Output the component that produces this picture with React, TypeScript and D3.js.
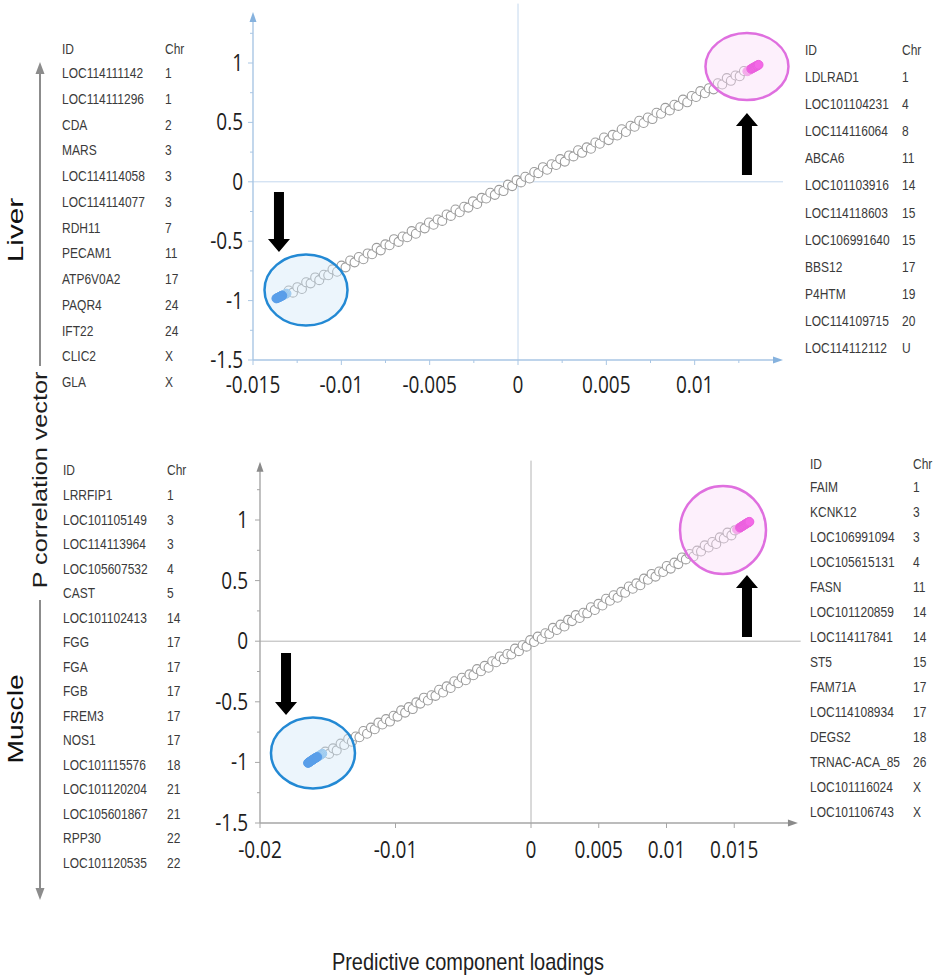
import React from "react";
import * as d3 from "d3";

// ---------------- DATA ----------------
const liverNegGenes = ["LOC114111142","LOC114111296","CDA","MARS","LOC114114058","LOC114114077","RDH11","PECAM1","ATP6V0A2","PAQR4","IFT22","CLIC2","GLA"];
const liverNegChr = ["1","1","2","3","3","3","7","11","17","24","24","X","X"];
const liverPosGenes = ["LDLRAD1","LOC101104231","LOC114116064","ABCA6","LOC101103916","LOC114118603","LOC106991640","BBS12","P4HTM","LOC114109715","LOC114112112"];
const liverPosChr = ["1","4","8","11","14","15","15","17","19","20","U"];
const muscleNegGenes = ["LRRFIP1","LOC101105149","LOC114113964","LOC105607532","CAST","LOC101102413","FGG","FGA","FGB","FREM3","NOS1","LOC101115576","LOC101120204","LOC105601867","RPP30","LOC101120535"];
const muscleNegChr = ["1","3","3","4","5","14","17","17","17","17","17","18","21","21","22","22"];
const musclePosGenes = ["FAIM","KCNK12","LOC106991094","LOC105615131","FASN","LOC101120859","LOC114117841","ST5","FAM71A","LOC114108934","DEGS2","TRNAC-ACA_85","LOC101116024","LOC101106743"];
const musclePosChr = ["1","3","3","4","11","14","14","15","17","17","18","26","X","X"];

const yTickValues = [-1.5, -1, -0.5, 0, 0.5, 1];
const yTickLabels = ["-1.5", "-1", "-0.5", "0", "0.5", "1"];
const liverXTickValues = [-0.015, -0.01, -0.005, 0, 0.005, 0.01];
const liverXTickLabels = ["-0.015", "-0.01", "-0.005", "0", "0.005", "0.01"];
const muscleXTickValues = [-0.02, -0.01, 0, 0.005, 0.01, 0.015];
const muscleXTickLabels = ["-0.02", "-0.01", "0", "0.005", "0.01", "0.015"];

const liverLoadings = [
  -0.01368,-0.01362,-0.01357,-0.01353,-0.01349,-0.01345,-0.01341,-0.01338,-0.01334,-0.01330,-0.01325,-0.01318,-0.01310,
  -0.01298,-0.01274,-0.01249,-0.01223,-0.01199,-0.01174,-0.01148,-0.01125,-0.01099,-0.01074,
  -0.01050,-0.01024,-0.00999,-0.00976,-0.00950,-0.00925,-0.00901,-0.00875,-0.00851,-0.00826,
  -0.00800,-0.00777,-0.00751,-0.00727,-0.00702,-0.00676,-0.00653,-0.00627,-0.00602,-0.00578,
  -0.00553,-0.00528,-0.00504,-0.00478,-0.00455,-0.00429,-0.00404,-0.00380,-0.00354,-0.00330,
  -0.00305,-0.00281,-0.00255,-0.00231,-0.00206,-0.00180,-0.00157,-0.00131,-0.00107,-0.00082,
  -0.00057,-0.00033,-0.00008,0.00017,0.00041,0.00066,0.00092,0.00115,0.00141,0.00165,
  0.00190,0.00216,0.00239,0.00265,0.00289,0.00314,0.00340,0.00363,0.00389,0.00413,
  0.00438,0.00463,0.00487,0.00513,0.00536,0.00562,0.00587,0.00611,0.00637,0.00660,
  0.00686,0.00711,0.00735,0.00761,0.00784,0.00810,0.00834,0.00859,0.00885,0.00908,
  0.00934,0.00958,0.00983,0.01008,0.01032,0.01058,0.01081,0.01107,0.01131,0.01156,
  0.01182,0.01205,0.01231,0.01255,0.01279,
  0.01298,0.01306,0.01313,0.01320,0.01327,0.01333,0.01339,0.01345,0.01351,0.01356,0.01362
];
const liverPcorr = [
  -0.982,-0.978,-0.975,-0.971,-0.969,-0.966,-0.962,-0.960,-0.957,-0.955,-0.951,-0.946,-0.941,
  -0.915,-0.933,-0.887,-0.902,-0.846,-0.855,-0.805,-0.828,-0.783,-0.787,
  -0.737,-0.757,-0.706,-0.720,-0.663,-0.678,-0.633,-0.652,-0.603,-0.610,
  -0.556,-0.577,-0.527,-0.534,-0.483,-0.506,-0.461,-0.467,-0.415,-0.437,
  -0.383,-0.392,-0.343,-0.361,-0.317,-0.329,-0.275,-0.287,-0.233,-0.256,
  -0.210,-0.217,-0.165,-0.187,-0.135,-0.141,-0.092,-0.110,-0.068,-0.078,
  -0.024,-0.036,0.014,-0.005,0.042,0.028,0.082,0.073,0.123,0.101,
  0.148,0.141,0.191,0.170,0.222,0.214,0.265,0.244,0.290,0.278,
  0.331,0.320,0.373,0.351,0.395,0.390,0.442,0.419,0.472,0.464,
  0.514,0.495,0.541,0.528,0.581,0.573,0.622,0.601,0.648,0.639,
  0.692,0.669,0.722,0.714,0.763,0.745,0.788,0.778,0.830,0.819,
  0.873,0.850,0.895,0.889,0.933,
  0.930,0.938,0.944,0.950,0.956,0.961,0.966,0.971,0.976,0.980,0.985
];

const muscleLoadings = [
  -0.01646,-0.01640,-0.01634,-0.01628,-0.01622,-0.01616,-0.01610,-0.01604,-0.01598,-0.01592,-0.01585,-0.01577,-0.01569,-0.01560,-0.01550,-0.01540,
  -0.01518,-0.01490,-0.01461,-0.01434,-0.01405,-0.01378,-0.01349,-0.01322,-0.01293,-0.01266,
  -0.01237,-0.01210,-0.01181,-0.01153,-0.01126,-0.01097,-0.01070,-0.01041,-0.01014,-0.00985,
  -0.00958,-0.00929,-0.00902,-0.00873,-0.00846,-0.00817,-0.00790,-0.00761,-0.00734,-0.00705,
  -0.00678,-0.00649,-0.00622,-0.00593,-0.00566,-0.00537,-0.00510,-0.00481,-0.00454,-0.00425,
  -0.00398,-0.00369,-0.00342,-0.00313,-0.00286,-0.00257,-0.00230,-0.00201,-0.00174,-0.00145,
  -0.00118,-0.00089,-0.00062,-0.00033,-0.00006,0.00023,0.00050,0.00079,0.00106,0.00135,
  0.00162,0.00191,0.00218,0.00247,0.00274,0.00303,0.00330,0.00359,0.00386,0.00415,
  0.00442,0.00471,0.00498,0.00527,0.00554,0.00583,0.00610,0.00639,0.00666,0.00695,
  0.00722,0.00751,0.00778,0.00807,0.00834,0.00863,0.00890,0.00919,0.00946,0.00975,
  0.01002,0.01031,0.01058,0.01087,0.01114,0.01143,0.01170,0.01199,0.01226,0.01255,
  0.01282,0.01311,0.01338,0.01367,0.01394,0.01423,0.01450,0.01479,0.01504,
  0.01520,0.01528,0.01535,0.01542,0.01549,0.01556,0.01563,0.01570,0.01577,0.01584,0.01591,0.01598,0.01605,0.01612
];
const musclePcorr = [
  -1.005,-1.001,-0.996,-0.991,-0.987,-0.982,-0.978,-0.973,-0.968,-0.964,-0.960,-0.955,-0.949,-0.943,-0.936,-0.928,
  -0.911,-0.930,-0.884,-0.901,-0.845,-0.856,-0.806,-0.830,-0.786,-0.792,
  -0.741,-0.764,-0.713,-0.726,-0.672,-0.687,-0.643,-0.663,-0.615,-0.622,
  -0.571,-0.589,-0.544,-0.560,-0.505,-0.515,-0.466,-0.489,-0.446,-0.451,
  -0.401,-0.423,-0.373,-0.386,-0.331,-0.347,-0.302,-0.322,-0.274,-0.281,
  -0.230,-0.248,-0.204,-0.219,-0.165,-0.174,-0.126,-0.148,-0.106,-0.110,
  -0.061,-0.082,-0.033,-0.045,0.009,-0.006,0.038,0.018,0.066,0.059,
  0.110,0.092,0.137,0.121,0.176,0.166,0.215,0.192,0.235,0.230,
  0.280,0.258,0.308,0.295,0.350,0.334,0.379,0.359,0.407,0.400,
  0.451,0.433,0.477,0.462,0.516,0.507,0.555,0.533,0.575,0.571,
  0.620,0.599,0.648,0.636,0.690,0.675,0.719,0.699,0.747,0.740,
  0.791,0.773,0.818,0.802,0.857,0.847,0.896,0.873,0.914,
  0.922,0.927,0.932,0.937,0.942,0.947,0.952,0.957,0.962,0.967,0.972,0.977,0.981,0.985
];

// ---------------- LAYOUT / STYLE ----------------
const TXT = "#3a3a3a";
const TICKFONT = "'Open Sans', 'Noto Sans', sans-serif";
const ARIAL = "'Liberation Sans', Arial, sans-serif";

function SText({ x, y, sx = 1, sy = 1, rot = 0, size, anchor = "start", fill = TXT, family = ARIAL, children }: any) {
  return (
    <text
      transform={`translate(${x},${y})${rot ? ` rotate(${rot})` : ""} scale(${sx},${sy})`}
      fontSize={size}
      textAnchor={anchor}
      fill={fill}
      fontFamily={family}
    >
      {children}
    </text>
  );
}

function Table({ genes, chr, x, xChr, headerY, rowY0, rowStep }: any) {
  return (
    <g>
      <SText x={x} y={headerY + 5} size={12} sy={1.2}>ID</SText>
      <SText x={xChr} y={headerY + 5} size={12} sy={1.2}>Chr</SText>
      {genes.map((g: string, i: number) => (
        <g key={g + i}>
          <SText x={x} y={rowY0 + i * rowStep + 5} size={12} sy={1.2}>{g}</SText>
          <SText x={xChr} y={rowY0 + i * rowStep + 5} size={12} sy={1.2}>{chr[i]}</SText>
        </g>
      ))}
    </g>
  );
}

function blockArrow(x: number, yTail: number, yTip: number) {
  const dir = Math.sign(yTip - yTail);
  const hb = yTip - dir * 13;
  return `M${x - 5},${yTail} L${x + 5},${yTail} L${x + 5},${hb} L${x + 11},${hb} L${x},${yTip} L${x - 11},${hb} L${x - 5},${hb} Z`;
}

function Panel(p: any) {
  const xs = d3.scaleLinear().domain(p.xDomain).range(p.xRange);
  const ys = d3.scaleLinear().domain(p.yDomain).range(p.yRange);
  const x0 = p.xRange[0];
  const yb = p.yRange[0];
  const n = p.loadings.length;
  const pts = p.loadings.map((v: number, i: number) => ({ x: xs(v), y: ys(p.pcorr[i]), i }));
  const gray = pts.filter((d: any) => d.i >= p.nNeg && d.i < n - p.nPos);
  const neg = pts.filter((d: any) => d.i < p.nNeg).reverse();
  const pos = pts.filter((d: any) => d.i >= n - p.nPos);
  const xEnd = xs(p.xAxisEnd);
  const yTop = ys(p.yAxisTop);
  return (
    <g>
      {/* zero lines */}
      <line x1={xs(0)} x2={xs(0)} y1={ys(p.zeroVTop)} y2={yb} stroke={p.zeroColor} strokeWidth={1} />
      <line x1={x0} x2={xs(p.zeroHEnd)} y1={ys(0)} y2={ys(0)} stroke={p.zeroColor} strokeWidth={1} />
      {/* axes */}
      <line x1={x0} x2={x0} y1={yb} y2={yTop + 8} stroke={p.axisColor} strokeWidth={1.4} />
      <path d={`M${x0},${yTop} L${x0 + 3.5},${yTop + 10} L${x0 - 3.5},${yTop + 10} Z`} fill={p.arrowColor} />
      <line x1={x0} x2={xEnd - 8} y1={yb} y2={yb} stroke={p.axisColor} strokeWidth={1.4} />
      <path d={`M${xEnd},${yb} L${xEnd - 10},${yb - 3.5} L${xEnd - 10},${yb + 3.5} Z`} fill={p.arrowColor} />
      {/* ticks */}
      {p.yMinor.map((v: number) => (
        <line key={"ym" + v} x1={x0 - 3} x2={x0} y1={ys(v)} y2={ys(v)} stroke={p.axisColor} strokeWidth={1} />
      ))}
      {yTickValues.map((v: number) => (
        <line key={"yt" + v} x1={x0 - 5} x2={x0} y1={ys(v)} y2={ys(v)} stroke={p.axisColor} strokeWidth={1} />
      ))}
      {p.xMinor.map((v: number) => (
        <line key={"xm" + v} x1={xs(v)} x2={xs(v)} y1={yb} y2={yb + 3} stroke={p.axisColor} strokeWidth={1} />
      ))}
      {p.xTicks.map((v: number) => (
        <line key={"xt" + v} x1={xs(v)} x2={xs(v)} y1={yb} y2={yb + 5} stroke={p.axisColor} strokeWidth={1} />
      ))}
      {/* tick labels */}
      {yTickValues.map((v: number, i: number) => (
        <SText key={"yl" + v} x={x0 - p.yLabelGap} y={ys(v) + 8} size={19} sy={1.22} anchor="end" fill="#1e1e1e" family={TICKFONT}>
          {yTickLabels[i]}
        </SText>
      ))}
      {p.xTicks.map((v: number, i: number) => (
        <SText key={"xl" + v} x={xs(v)} y={yb + p.xLabelOffset + 8.5} size={19} sy={1.22} anchor="middle" fill="#1e1e1e" family={TICKFONT}>
          {p.xLabels[i]}
        </SText>
      ))}
      {/* points */}
      {gray.map((d: any) => (
        <circle key={"g" + d.i} cx={d.x} cy={d.y} r={4.5} fill="#ffffff" stroke="#9c9c9c" strokeWidth={1.1} />
      ))}
      {neg.map((d: any) => (
        <circle key={"n" + d.i} cx={d.x} cy={d.y} r={4.4} fill={d.i < p.nNeg - 4 ? "#0b6fe0" : "#8fc6f2"} stroke={d.i < p.nNeg - 4 ? "#0b6fe0" : "#7bb6e8"} strokeWidth={1} />
      ))}
      {pos.map((d: any) => (
        <circle key={"p" + d.i} cx={d.x} cy={d.y} r={4.4} fill={d.i < n - p.nPos + 3 ? "#f59ae8" : "#f01ddc"} stroke={d.i < n - p.nPos + 3 ? "#ee86e0" : "#e010cc"} strokeWidth={1} />
      ))}
      {/* highlight ellipses */}
      {p.ellipses.map((e: any, k: number) => (
        <ellipse key={"e" + k} cx={xs(e.x)} cy={ys(e.y)} rx={e.rx} ry={e.ry} fill={e.fill} fillOpacity={0.4} stroke={e.stroke} strokeWidth={2.5} />
      ))}
      {/* arrows */}
      {p.arrows.map((a: any, k: number) => (
        <path key={"a" + k} d={blockArrow(xs(a.x), ys(a.tail), ys(a.tip))} fill="#000" />
      ))}
    </g>
  );
}

export default function App() {
  return (
    <svg width={936} height={980} style={{ position: "absolute", left: 0, top: 0, background: "#fff" }}>
      <rect x={0} y={0} width={936} height={980} fill="#fff" />
      {/* Liver panel */}
      <Panel
        loadings={liverLoadings}
        pcorr={liverPcorr}
        nNeg={liverNegGenes.length}
        nPos={liverPosGenes.length}
        xDomain={[-0.015, 0.015]}
        xRange={[253, 783]}
        yDomain={[-1.5, 1]}
        yRange={[360, 63]}
        xTicks={liverXTickValues}
        xLabels={liverXTickLabels}
        xMinor={[-0.0125, -0.0075, -0.0025, 0.0025, 0.0075, 0.0125]}
        yMinor={[-1.25, -0.75, -0.25, 0.25, 0.75, 1.25]}
        xAxisEnd={0.015}
        yAxisTop={1.43}
        zeroVTop={1.5}
        zeroHEnd={0.015}
        axisColor="#a9c6e4"
        zeroColor="#c4d8ee"
        arrowColor="#86b2de"
        yLabelGap={10}
        xLabelOffset={24}
        ellipses={[
          { x: -0.0120, y: -0.911, rx: 41.5, ry: 35.5, fill: "#cfe6f8", stroke: "#2389d4" },
          { x: 0.01296, y: 0.97, rx: 41.5, ry: 33.5, fill: "#fbd9f8", stroke: "#df6fdf" },
        ]}
        arrows={[
          { x: -0.01353, tail: -0.086, tip: -0.59 },
          { x: 0.01296, tail: 0.057, tip: 0.579 },
        ]}
      />
      {/* Muscle panel */}
      <Panel
        loadings={muscleLoadings}
        pcorr={musclePcorr}
        nNeg={muscleNegGenes.length}
        nPos={musclePosGenes.length}
        xDomain={[-0.02, 0.015]}
        xRange={[260, 734.25]}
        yDomain={[-1.5, 1]}
        yRange={[823, 520]}
        xTicks={muscleXTickValues}
        xLabels={muscleXTickLabels}
        xMinor={[]}
        yMinor={[-1.25, -0.75, -0.25, 0.25, 0.75, 1.25]}
        xAxisEnd={0.0197}
        yAxisTop={1.48}
        zeroVTop={1.49}
        zeroHEnd={0.0199}
        axisColor="#a6a6a6"
        zeroColor="#b4b4b4"
        arrowColor="#8a8a8a"
        yLabelGap={12}
        xLabelOffset={26}
        ellipses={[
          { x: -0.01609, y: -0.922, rx: 42, ry: 35.5, fill: "#cfe6f8", stroke: "#2389d4" },
          { x: 0.01417, y: 0.917, rx: 43, ry: 44, fill: "#fbd9f8", stroke: "#df6fdf" },
        ]}
        arrows={[
          { x: -0.01808, tail: -0.097, tip: -0.609 },
          { x: 0.01594, tail: 0.035, tip: 0.546 },
        ]}
      />

      {/* Gene tables */}
      <Table genes={liverNegGenes} chr={liverNegChr} x={62} xChr={165} headerY={49} rowY0={73} rowStep={25.75} />
      <Table genes={liverPosGenes} chr={liverPosChr} x={805} xChr={902} headerY={50} rowY0={77} rowStep={27.1} />
      <Table genes={muscleNegGenes} chr={muscleNegChr} x={63} xChr={167} headerY={470} rowY0={495} rowStep={24.5} />
      <Table genes={musclePosGenes} chr={musclePosChr} x={810} xChr={913} headerY={464} rowY0={487} rowStep={25} />

      {/* Left vertical arrow + labels */}
      <line x1={40} x2={40} y1={72} y2={366} stroke="#8c8c8c" strokeWidth={2} />
      <path d="M40,62 L44.5,74 L35.5,74 Z" fill="#8c8c8c" />
      <line x1={40} x2={40} y1={600} y2={890} stroke="#8c8c8c" strokeWidth={2} />
      <path d="M40,900 L44.5,888 L35.5,888 Z" fill="#8c8c8c" />
      <SText x={47} y={480} rot={-90} sx={1.2} size={21} anchor="middle" fill="#1e1e1e">P correlation vector</SText>
      <SText x={23} y={230} rot={-90} sx={1.35} size={22} anchor="middle" fill="#111">Liver</SText>
      <SText x={23} y={719} rot={-90} sx={1.28} size={22} anchor="middle" fill="#111">Muscle</SText>

      {/* x-axis title */}
      <SText x={468} y={970} sy={1.2} size={20} anchor="middle" fill="#1e1e1e">Predictive component loadings</SText>
    </svg>
  );
}
